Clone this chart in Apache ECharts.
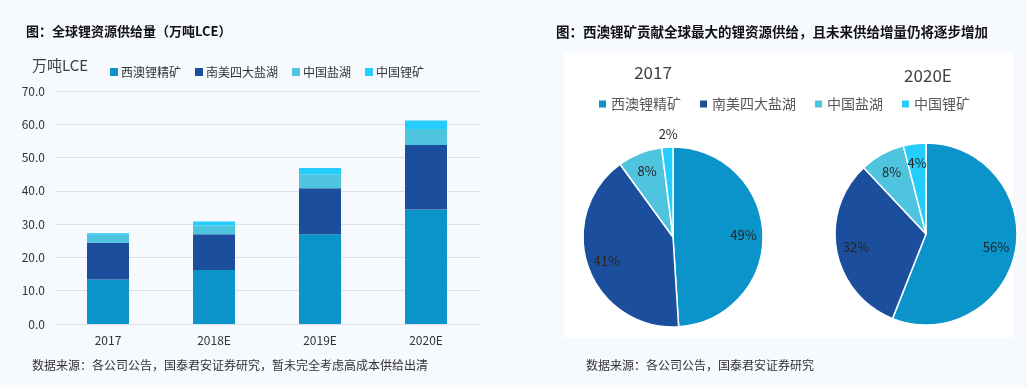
<!DOCTYPE html>
<html>
<head>
<meta charset="utf-8">
<script src="https://cdn.jsdelivr.net/npm/echarts@6/dist/echarts.min.js"></script>
<style>
html,body{margin:0;padding:0;background:#f6f9fd;}
#c{width:1027px;height:387px;}
</style>
</head>
<body>
<div id="c"></div>
<script>
// ---- data ----
const categories = ['2017', '2018E', '2019E', '2020E'];
const seriesNames = ['西澳锂精矿', '南美四大盐湖', '中国盐湖', '中国锂矿'];
const waSpodumene = [13.4, 16.2, 27.0, 34.4];
const saBrine = [11.0, 10.8, 13.8, 19.4];
const cnBrine = [2.4, 2.6, 4.2, 4.8];
const cnMine = [0.5, 1.2, 1.9, 2.5];
const yTicks = [0, 10, 20, 30, 40, 50, 60, 70];
const pieTitles = ['2017', '2020E'];
const pieShare2017 = [49, 41, 8, 2];
const pieShare2020 = [56, 32, 8, 4];

const colors = ['#0a94c9', '#1b4f9e', '#4fc4de', '#25cdfd'];
const FONT = '"Noto Sans CJK SC","Noto Sans",sans-serif';

const chart = echarts.init(document.getElementById('c'), null, {renderer: 'canvas'});

const barValues = [waSpodumene, saBrine, cnBrine, cnMine];
const barSeries = seriesNames.map((n, i) => ({
  type: 'bar', name: n, stack: 'total', data: barValues[i],
  barWidth: 42, itemStyle: {color: colors[i]},
  xAxisIndex: 0, yAxisIndex: 0
}));

function pieData(arr) { return seriesNames.map((n, i) => ({name: n, value: arr[i], itemStyle: {color: colors[i]}})); }

const pies = [
  {center: [673, 237], r: 90, data: pieShare2017},
  {center: [926, 234], r: 91, data: pieShare2020}
];
const pieSeries = [];
pies.forEach((p, k) => {
  pieSeries.push({
    type: 'pie', name: pieTitles[k], center: p.center, radius: [0, p.r],
    data: pieData(p.data), label: {show: false}, labelLine: {show: false},
    itemStyle: {borderColor: '#ffffff', borderWidth: 1.5}, silent: true, animation: false
  });
  const overlay = pieData(p.data).map(d => ({name: d.name, value: d.value, itemStyle: {color: 'rgba(0,0,0,0)'}}));
  if (k === 0) {
    overlay[3].label = {position: 'outside'};
    overlay[3].labelLine = {show: false, length: 8, length2: 0};
  }
  pieSeries.push({
    type: 'pie', name: pieTitles[k] + '-labels', center: p.center, radius: [p.r * 0.5, p.r],
    data: overlay, silent: true, animation: false,
    itemStyle: {borderWidth: 0},
    label: {show: true, position: 'inside', formatter: '{c}%', color: '#262626', fontSize: 13, fontFamily: FONT},
    labelLine: {show: false, length: 8, length2: 0},
    labelLayout: k === 0 ? function (params) { return params.dataIndex === 3 ? {dx: 16, dy: -5} : {}; } : undefined
  });
});

const option = {
  animation: false,
  backgroundColor: '#f6f9fd',
  graphic: [
    {type: 'rect', shape: {x: 564, y: 53, width: 449, height: 285}, style: {fill: '#ffffff'}, z: -10, silent: true},
    {type: 'text', left: 26, top: 25, style: {text: '图：全球锂资源供给量（万吨LCE）', font: 'bold 13px ' + FONT, fill: '#111'}},
    {type: 'text', left: 556, top: 25, style: {text: '图：西澳锂矿贡献全球最大的锂资源供给，且未来供给增量仍将逐步增加', font: 'bold 13.5px ' + FONT, fill: '#111'}},
    {type: 'text', left: 32, top: 58, style: {text: '万吨LCE', font: '15px ' + FONT, fill: '#404040'}},
    {type: 'text', left: 32, top: 359, style: {text: '数据来源：各公司公告，国泰君安证券研究，暂未完全考虑高成本供给出清', font: '12px ' + FONT, fill: '#333'}},
    {type: 'text', left: 586, top: 359, style: {text: '数据来源：各公司公告，国泰君安证券研究', font: '12px ' + FONT, fill: '#333'}}
  ],
  title: [
    {text: pieTitles[0], left: 648, top: 59, textAlign: 'center', textStyle: {fontSize: 17, fontWeight: 'normal', color: '#404040', fontFamily: FONT}},
    {text: pieTitles[1], left: 923, top: 62, textAlign: 'center', textStyle: {fontSize: 17, fontWeight: 'normal', color: '#404040', fontFamily: FONT}}
  ],
  legend: [
    {data: seriesNames, left: 105, top: 61, itemWidth: 8, itemHeight: 8, itemGap: 14, icon: 'rect',
     textStyle: {fontSize: 12, color: '#333', fontFamily: FONT, padding: [0, 0, 0, -2]}, selectedMode: false},
    {data: seriesNames, left: 594, top: 92, itemWidth: 7, itemHeight: 7, itemGap: 19, icon: 'rect',
     textStyle: {fontSize: 14, color: '#595959', fontFamily: FONT}, selectedMode: false}
  ],
  grid: {left: 55, right: 548, top: 91, bottom: 63, containLabel: false},
  xAxis: {type: 'category', data: categories, axisLine: {show: false}, axisTick: {show: false},
    axisLabel: {fontSize: 12, color: '#333', margin: 10, fontFamily: FONT}},
  yAxis: {type: 'value', min: yTicks[0], max: yTicks[yTicks.length - 1], interval: 10,
    axisLine: {show: false}, axisTick: {show: false},
    splitLine: {lineStyle: {color: '#dcdfe3', width: 1}},
    axisLabel: {fontSize: 12, color: '#333', margin: 10, fontFamily: FONT, formatter: v => v.toFixed(1)}},
  series: barSeries.concat(pieSeries)
};
chart.setOption(option);
</script>
</body>
</html>
